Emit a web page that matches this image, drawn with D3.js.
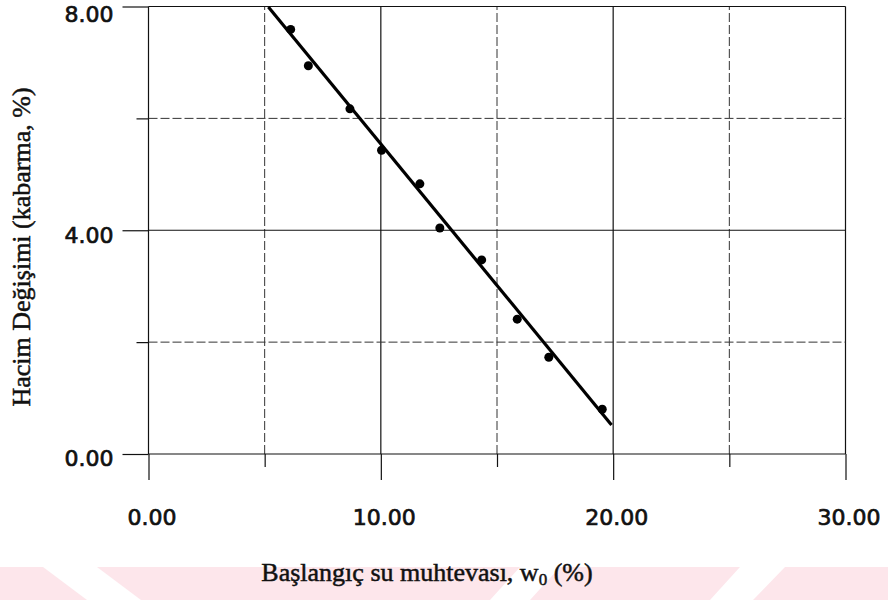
<!DOCTYPE html>
<html>
<head>
<meta charset="utf-8">
<script src="https://cdn.jsdelivr.net/npm/d3@7"></script>
<style>
  body { margin: 0; background: #fff; }
  svg { display: block; }
  .tick text { font-family: "DejaVu Sans", sans-serif; font-size: 22px; fill: #111; stroke: #111; stroke-width: 0.7px; }
  .title { font-family: "Liberation Serif", "Times New Roman", serif; font-size: 26px; fill: #111; stroke: #111; stroke-width: 0.5px; }
</style>
</head>
<body>
<svg id="chart" width="888" height="600"></svg>
<script>
// measured points
const waterContent = [6.12, 6.88, 8.67, 10.03, 11.68, 12.54, 14.34, 15.87, 17.23, 19.53];
const swell = [7.59, 6.94, 6.17, 5.43, 4.83, 4.04, 3.47, 2.41, 1.73, 0.80];

// fitted line end points
const fitX = [5.16, 19.93];
const fitY = [7.99, 0.52];

const xMajor = [0, 10, 20, 30];
const xMinor = [5, 15, 25];
const yMajor = [0, 4, 8];
const yMinor = [2, 6];

const svg = d3.select("#chart");

// faint pink watermark band at the bottom
const wm = svg.append("g");
wm.append("rect")
  .attr("x", 0).attr("y", 567).attr("width", 888).attr("height", 33)
  .attr("fill", "#fde6eb");
const cuts = [
  [[43, 567], [97, 567], [141, 600], [87, 600]],
  [[520, 567], [560, 567], [530, 600], [490, 600]],
  [[740, 567], [785, 567], [753, 600], [710, 600]]
];
wm.selectAll("polygon")
  .data(cuts)
  .enter()
  .append("polygon")
  .attr("points", d => d.map(p => p.join(",")).join(" "))
  .attr("fill", "#fff");

const x = d3.scaleLinear().domain([0, 30]).range([148.5, 845.5]);
const y = d3.scaleLinear().domain([0, 8]).range([454, 6.5]);

const grid = svg.append("g");

// gridlines
grid.selectAll(".vmajor")
  .data(xMajor)
  .enter()
  .append("line")
  .attr("x1", d => x(d)).attr("x2", d => x(d))
  .attr("y1", y(0)).attr("y2", y(8))
  .attr("stroke", "#111").attr("stroke-width", 1.2);

grid.selectAll(".vminor")
  .data(xMinor)
  .enter()
  .append("line")
  .attr("x1", d => x(d)).attr("x2", d => x(d))
  .attr("y1", y(0)).attr("y2", y(8))
  .attr("stroke", "#333").attr("stroke-width", 1)
  .attr("stroke-dasharray", "9,3");

grid.selectAll(".hmajor")
  .data(yMajor)
  .enter()
  .append("line")
  .attr("x1", x(0)).attr("x2", x(30))
  .attr("y1", d => y(d)).attr("y2", d => y(d))
  .attr("stroke", "#111").attr("stroke-width", 1.2);

grid.selectAll(".hminor")
  .data(yMinor)
  .enter()
  .append("line")
  .attr("x1", x(0)).attr("x2", x(30))
  .attr("y1", d => y(d)).attr("y2", d => y(d))
  .attr("stroke", "#333").attr("stroke-width", 1)
  .attr("stroke-dasharray", "9,3");

// axes
const fmt = d3.format(".2f");

const xAxis = svg.append("g")
  .attr("transform", `translate(0,${y(0)})`)
  .call(d3.axisBottom(x).tickValues(xMajor).tickSize(26).tickFormat(fmt));
xAxis.selectAll(".tick text").attr("y", 71).attr("dy", 0).attr("dx", 3);

const xAxisMinor = svg.append("g")
  .attr("transform", `translate(0,${y(0)})`)
  .call(d3.axisBottom(x).tickValues(xMinor).tickSize(13).tickFormat(""));

const yAxis = svg.append("g")
  .attr("transform", `translate(${x(0)},0)`)
  .call(d3.axisLeft(y).tickValues(yMajor).tickSize(26).tickFormat(fmt));
yAxis.selectAll(".tick text")
  .attr("x", -35)
  .attr("dy", "0.36em")
  .attr("y", d => Math.max(y(d) + 4, 14) - y(d));

const yAxisMinor = svg.append("g")
  .attr("transform", `translate(${x(0)},0)`)
  .call(d3.axisLeft(y).tickValues(yMinor).tickSize(12).tickFormat(""));

[xAxis, xAxisMinor, yAxis, yAxisMinor].forEach(a => {
  a.select(".domain").remove();
  a.selectAll(".tick line").attr("stroke", "#111").attr("stroke-width", 1.2);
});

// fitted line
const fit = fitX.map((v, i) => [v, fitY[i]]);
svg.append("path")
  .datum(fit)
  .attr("d", d3.line().x(d => x(d[0])).y(d => y(d[1])))
  .attr("fill", "none")
  .attr("stroke", "#000")
  .attr("stroke-width", 3.2);

// data points
svg.selectAll(".dot")
  .data(waterContent.map((v, i) => [v, swell[i]]))
  .enter()
  .append("circle")
  .attr("class", "dot")
  .attr("cx", d => x(d[0]))
  .attr("cy", d => y(d[1]))
  .attr("r", 4.5)
  .attr("fill", "#000");

// titles
const xt = svg.append("text")
  .attr("class", "title")
  .attr("x", 427)
  .attr("y", 581)
  .attr("text-anchor", "middle");
xt.append("tspan").text("Başlangıç su muhtevası, w");
xt.append("tspan").attr("font-size", "17px").attr("dy", 4).text("0");
xt.append("tspan").attr("dy", -4).text(" (%)");

svg.append("text")
  .attr("class", "title")
  .attr("transform", "translate(30,247) rotate(-90)")
  .attr("text-anchor", "middle")
  .text("Hacim Değişimi (kabarma, %)");
</script>
</body>
</html>
